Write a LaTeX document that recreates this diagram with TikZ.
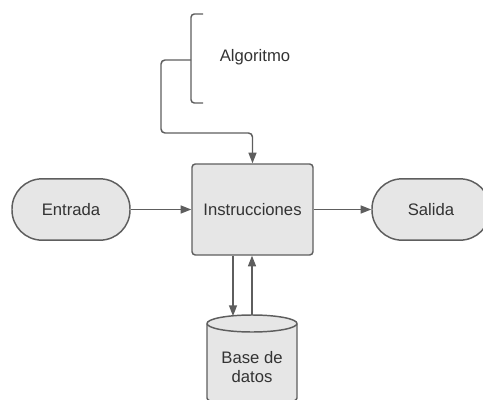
\documentclass[tikz,border=0pt]{standalone}
\usepackage{fontspec}
\setmainfont{Liberation Sans}
\usetikzlibrary{arrows.meta}
\definecolor{strk}{HTML}{5E5E5E}
\definecolor{fillg}{HTML}{E6E6E6}
\definecolor{txt}{HTML}{333333}
\tikzset{
  shp/.style={draw=strk, fill=fillg, line width=1.1pt, text=txt, font=\fontsize{12.5}{15}\selectfont},
  term/.style={shp, rounded corners=22.5pt, minimum width=88.5pt, minimum height=46pt, inner sep=0pt},
  procbox/.style={shp, rounded corners=2.5pt, minimum width=90.75pt, minimum height=68.25pt, inner sep=0pt},
  conn/.style={draw=strk, line width=1.1pt, -{Triangle[length=8pt,width=6pt]}},
  lbl/.style={text=txt, font=\fontsize{12.5}{15}\selectfont, inner sep=0pt},
}
\begin{document}
\begin{tikzpicture}[x=0.75pt,y=-0.75pt]
\useasboundingbox (0,0) rectangle (483,400);
% nodes
\node[term] (in) at (71,209.5) {Entrada};
\node[term] (out) at (431,209.5) {Salida};
\node[procbox] (proc) at (252.5,209.5) {Instrucciones};
\node[lbl] (alg) at (255,57) {Algoritmo};
% bracket
\draw[draw=strk, line width=1.1pt, rounded corners=2.5pt] (203,14) -- (191,14) -- (191,103) -- (203,103);
\coordinate (brk) at (191,60);
\coordinate (algturn) at (161,133);
\draw[conn, rounded corners=3pt] (brk) -- (161,60) -- (algturn) -| (proc.north);
% database cylinder
\draw[shp] (207,323.5) -- (207,398) arc[start angle=180, end angle=0, x radius=45, y radius=8.5] -- (297,323.5) arc[start angle=360, end angle=180, x radius=45, y radius=8.5] -- cycle;
\draw[draw=strk, line width=1.1pt] (207,323.5) arc[start angle=180, end angle=0, x radius=45, y radius=8.5];
\node[lbl, align=center, font=\fontsize{12.5}{14.25}\selectfont] (db) at (252,367) {Base de\\datos};
\coordinate (dbtopA) at (233,316);
\coordinate (dbtopB) at (252,315);
% connectors
\draw[conn] (in) -- (proc);
\draw[conn] (proc) -- (out);
\draw[conn] (proc.south -| dbtopA) -- (dbtopA);
\draw[conn] (dbtopB) -- (proc.south -| dbtopB);
\end{tikzpicture}
\end{document}
